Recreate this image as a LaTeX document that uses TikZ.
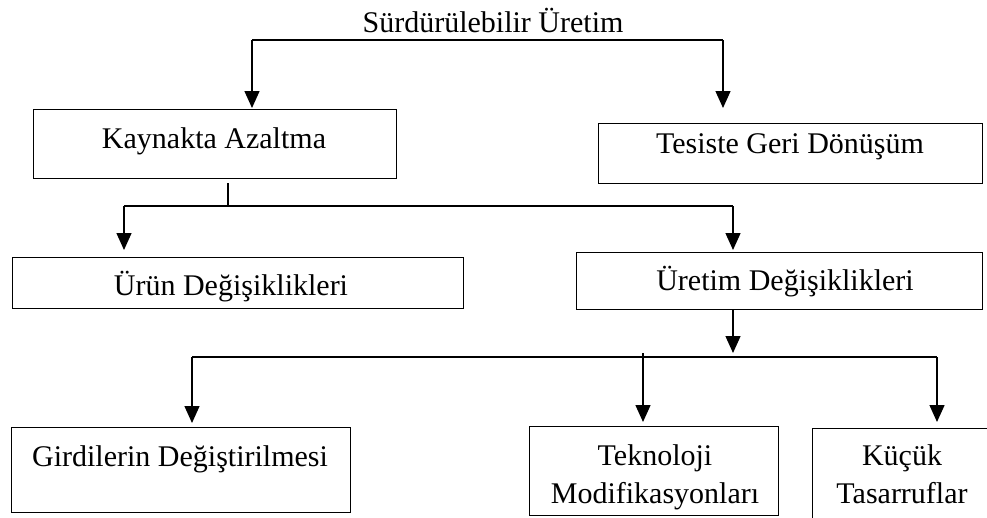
\documentclass[tikz,border=0pt]{standalone}
\usepackage{fontspec}
\setmainfont{Liberation Serif}
\usetikzlibrary{arrows.meta}
\begin{document}
\begin{tikzpicture}[x=1pt,y=1pt,
  box/.style={draw, line width=1.4pt, rectangle, inner sep=0pt, anchor=north west},
  lbl/.style={anchor=base, inner sep=0pt, font=\fontsize{30}{30}\selectfont},
  wire/.style={line width=1.4pt},
  arr/.style={line width=1.4pt, -{Triangle[width=15pt,length=17pt]}}]
\useasboundingbox (0,0) rectangle (987,-517);
\clip (0,0) rectangle (987,-517);

% boxes
\node[box, minimum width=363pt, minimum height=69pt] (kay) at (33,-109) {};
\node[box, minimum width=384pt, minimum height=60pt] (tes) at (598,-123) {};
\node[box, minimum width=451pt, minimum height=51pt] (urun) at (12,-257) {};
\node[box, minimum width=406pt, minimum height=57pt] (uret) at (576,-252) {};
\node[box, minimum width=339pt, minimum height=85pt] (gir) at (11,-427) {};
\node[box, minimum width=249pt, minimum height=89pt] (tek) at (529,-426) {};
\node[box, minimum width=250pt, minimum height=150pt] (kuc) at (812,-428) {};

% texts
\node[lbl] (title) at (493,-32) {Sürdürülebilir Üretim};
\node[lbl] (tkay) at (214,-148) {Kaynakta Azaltma};
\node[lbl] (ttes) at (790,-153) {Tesiste Geri Dönüşüm};
\node[lbl] (turun) at (231,-295) {Ürün Değişiklikleri};
\node[lbl] (turet) at (785,-290) {Üretim Değişiklikleri};
\node[lbl] (tgir) at (180,-466) {Girdilerin Değiştirilmesi};
\node[lbl] (ttek1) at (655,-465) {Teknoloji};
\node[lbl] (ttek2) at (655,-503) {Modifikasyonları};
\node[lbl] (tkuc1) at (902,-465) {Küçük};
\node[lbl] (tkuc2) at (902,-503) {Tasarruflar};

% top branch
\coordinate (tl) at (252,-40);
\coordinate (tr) at (723,-40);
\coordinate (kaytip) at (252,-108);
\coordinate (testip) at (723,-108);
\draw[wire] (tl) -- (tr);
\draw[arr] (tl) -- (kaytip);
\draw[arr] (tr) -- (testip);

% second branch
\coordinate (ks) at (228,-183);
\coordinate (kj) at (228,-206);
\coordinate (ml) at (124,-206);
\coordinate (mr) at (733,-206);
\coordinate (uruntip) at (124,-250);
\coordinate (urettip) at (733,-250);
\draw[wire] (ks) -- (kj);
\draw[wire] (ml) -- (mr);
\draw[arr] (ml) -- (uruntip);
\draw[arr] (mr) -- (urettip);

% third branch
\coordinate (us) at (733,-309);
\coordinate (ujtip) at (733,-353);
\coordinate (bl) at (192,-357);
\coordinate (br) at (937,-357);
\coordinate (ts) at (643,-353);
\coordinate (girtip) at (192,-423);
\coordinate (tektip) at (643,-422);
\coordinate (kuctip) at (937,-422);
\draw[arr] (us) -- (ujtip);
\draw[wire] (bl) -- (br);
\draw[arr] (bl) -- (girtip);
\draw[arr] (ts) -- (tektip);
\draw[arr] (br) -- (kuctip);
\end{tikzpicture}
\end{document}
